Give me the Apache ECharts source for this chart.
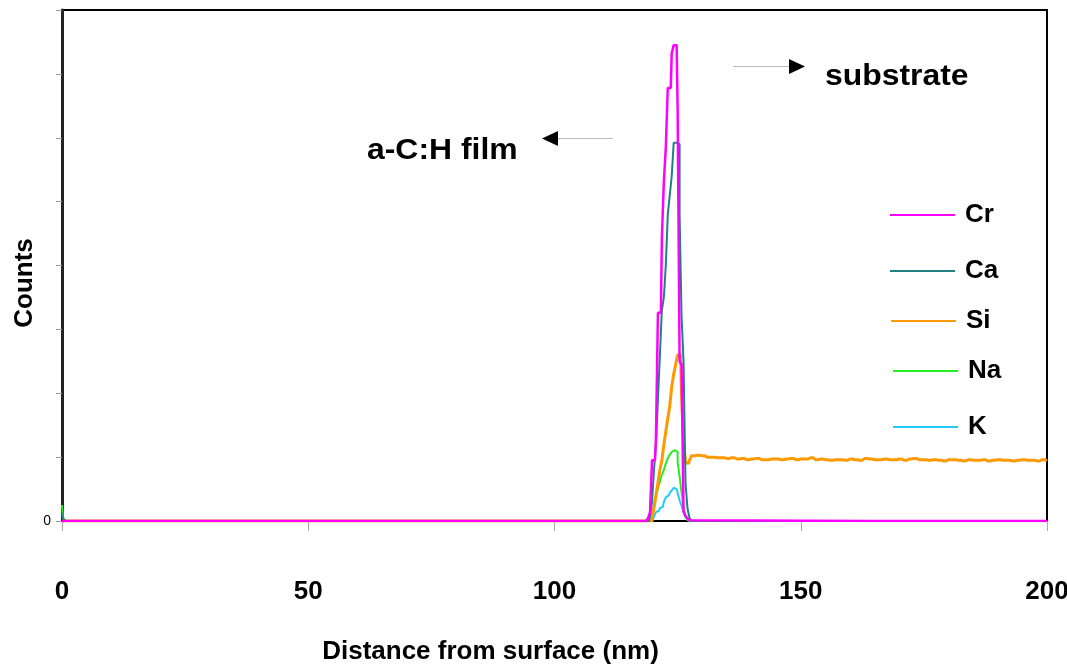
<!DOCTYPE html>
<html>
<head>
<meta charset="utf-8">
<script src="https://cdn.jsdelivr.net/npm/echarts@6/dist/echarts.min.js"></script>
<style>
html,body{margin:0;padding:0;background:#fff;overflow:hidden;}
#chart{width:1067px;height:670px;}
</style>
</head>
<body>
<div id="chart"></div>
<script>
// ---- data ----
const seriesNames = ['Cr', 'Ca', 'Si', 'Na', 'K'];
const xTicks = [0, 50, 100, 150, 200];

const surfaceX = [0, 0.4, 0.8];
const crSurface = [0, 0, 0];
const caSurface = [0.12, 0.03, 0];
const siSurface = [0, 0, 0];
const naSurface = [0.25, 0.06, 0];
const kSurface = [0, 0, 0];

const peakX = [118.0,118.4,118.8,119.2,119.6,120.0,120.4,120.8,121.2,121.6,122.0,122.4,122.8,123.2,123.6,124.0,124.4,124.8,125.2,125.6,126.0,126.4,126.8,127.2,127.6,128.0];
const crPeak = [0,0,0,0.05,0.14,0.95,0.95,1.3,3.26,3.26,4.43,5.31,5.85,6.78,6.78,7.32,7.45,7.45,6.46,2.5,2.45,0.15,0.08,0.04,0.01,0];
const caPeak = [0,0,0,0,0.08,0.3,0.8,1.2,1.9,2.6,3.3,3.5,4.0,4.8,5.1,5.4,5.92,5.92,5.9,4.8,3.2,2.5,0.6,0.2,0.05,0];
const siPeak = [0,0,0,0,0,0.05,0.2,0.4,0.6,0.8,0.95,1.19,1.4,1.6,1.8,2.1,2.3,2.45,2.6,2.6,1.97,1.24,0.92,0.9,0.95,1.02];
const naPeak = [0,0,0,0,0,0.05,0.25,0.4,0.5,0.62,0.72,0.8,0.9,0.98,1.04,1.08,1.11,1.08,0.92,0.7,0.44,0.22,0.08,0.02,0,0];
const kPeak = [0,0,0,0,0,0.03,0.07,0.14,0.16,0.2,0.22,0.3,0.37,0.4,0.44,0.48,0.52,0.5,0.44,0.32,0.24,0.14,0.06,0.02,0,0];

const tailX = [200];
const zeroTail = [0];

const plateauX = [129,130,131,132,133,134,135,136,137,138,139,140,141,142,143,144,145,146,147,148,149,150,151,152,153,154,155,156,157,158,159,160,161,162,163,164,165,166,167,168,169,170,171,172,173,174,175,176,177,178,179,180,181,182,183,184,185,186,187,188,189,190,191,192,193,194,195,196,197,198,199,200];
const siPlateau = [1.03,1.02,1.0,1.0,0.99,0.99,0.98,0.99,0.97,0.98,0.96,0.97,0.98,0.96,0.96,0.97,0.97,0.96,0.97,0.98,0.96,0.97,0.97,0.99,0.96,0.97,0.96,0.95,0.96,0.96,0.95,0.97,0.96,0.95,0.98,0.97,0.96,0.96,0.97,0.96,0.96,0.97,0.95,0.97,0.98,0.96,0.96,0.95,0.96,0.95,0.94,0.96,0.96,0.95,0.94,0.96,0.95,0.95,0.96,0.94,0.95,0.96,0.95,0.95,0.94,0.95,0.96,0.95,0.95,0.94,0.96,0.94];

// ---- build ----
function zip(xs, ys) { return xs.map((x, i) => [x, ys[i]]); }
const crData = zip(surfaceX, crSurface).concat(zip(peakX, crPeak), zip(tailX, zeroTail));
const caData = zip(surfaceX, caSurface).concat(zip(peakX, caPeak), zip(tailX, zeroTail));
const siData = zip(surfaceX, siSurface).concat(zip(peakX, siPeak), zip(plateauX, siPlateau));
const naData = zip(surfaceX, naSurface).concat(zip(peakX, naPeak), zip(tailX, zeroTail));
const kData = zip(surfaceX, kSurface).concat(zip(peakX, kPeak), zip(tailX, zeroTail));

const colors = {Cr: '#FF00FF', Ca: '#218080', Si: '#FF9900', Na: '#22EE22', K: '#22CCF5'};
const F = 'Liberation Sans, Arial, sans-serif';

function lineSeries(name, data, width) {
  return {
    name: name, type: 'line', data: data, step: 'middle', showSymbol: false,
    symbol: 'none', color: colors[name],
    lineStyle: {color: colors[name], width: width}
  };
}

const legendTops = {Cr: 202, Ca: 258, Si: 308, Na: 358, K: 414};
const legendLefts = {Cr: 890, Ca: 890, Si: 891, Na: 893, K: 893};
const legends = seriesNames.map(n => ({
  data: [n], orient: 'vertical', left: legendLefts[n], top: legendTops[n], padding: 0,
  icon: 'rect', itemWidth: 65, itemHeight: 2, selectedMode: false,
  textStyle: {fontFamily: F, fontSize: 26, fontWeight: 'bold', color: '#000', padding: [0, 0, 0, 5]}
}));

const chart = echarts.init(document.getElementById('chart'), null, {renderer: 'canvas'});
chart.setOption({
  animation: false,
  backgroundColor: '#fff',
  grid: {left: 62, right: 20, top: 10, bottom: 149, outerBoundsMode: 'none', containLabel: false,
         show: true, borderColor: '#000', borderWidth: 2, backgroundColor: 'transparent'},
  legend: legends,
  xAxis: {
    type: 'value', min: xTicks[0], max: xTicks[xTicks.length - 1], interval: 50,
    axisLine: {show: true, onZero: false, lineStyle: {color: '#000', width: 2}},
    axisTick: {show: true, length: 10, lineStyle: {color: '#aaa'}},
    axisLabel: {margin: 58, fontSize: 26, fontWeight: 'bold', color: '#000', fontFamily: F},
    splitLine: {show: false},
    name: 'Distance from surface (nm)', nameLocation: 'middle', nameGap: 118,
    nameTextStyle: {fontSize: 26, fontWeight: 'bold', color: '#000', fontFamily: F, padding: [0, 128, 0, 0]}
  },
  yAxis: {
    type: 'value', min: 0, max: 8, interval: 1,
    axisLine: {show: true, lineStyle: {color: '#222', width: 3}},
    axisTick: {show: true, length: 6, lineStyle: {color: '#999'}},
    axisLabel: {formatter: v => (v === 0 ? '0' : ''), fontSize: 14, color: '#000', margin: 11, fontFamily: F},
    splitLine: {show: false}
  },
  series: [
    lineSeries('K', kData, 2),
    lineSeries('Na', naData, 2),
    lineSeries('Si', siData, 3),
    lineSeries('Ca', caData, 2),
    lineSeries('Cr', crData, 2.5)
  ],
  graphic: [
    {type: 'text', x: 25, y: 283, rotation: Math.PI / 2,
     style: {text: 'Counts', fontFamily: F, fontSize: 26, fontWeight: 'bold', fill: '#000', align: 'center', verticalAlign: 'middle'}},
    {type: 'text', x: 367, y: 136, scaleX: 1.1,
     style: {text: 'a-C:H film', fontFamily: F, fontSize: 29, fontWeight: 'bold', fill: '#000'}},
    {type: 'text', x: 825, y: 62, scaleX: 1.1,
     style: {text: 'substrate', fontFamily: F, fontSize: 29, fontWeight: 'bold', fill: '#000'}},
    {type: 'line', shape: {x1: 557, y1: 138.5, x2: 613, y2: 138.5}, style: {stroke: '#bbb', lineWidth: 1}},
    {type: 'polygon', shape: {points: [[542, 138.5], [558, 131], [558, 146]]}, style: {fill: '#000'}},
    {type: 'line', shape: {x1: 733, y1: 66.5, x2: 790, y2: 66.5}, style: {stroke: '#bbb', lineWidth: 1}},
    {type: 'polygon', shape: {points: [[805, 66.5], [789, 59], [789, 74]]}, style: {fill: '#000'}}
  ]
});
</script>
</body>
</html>
